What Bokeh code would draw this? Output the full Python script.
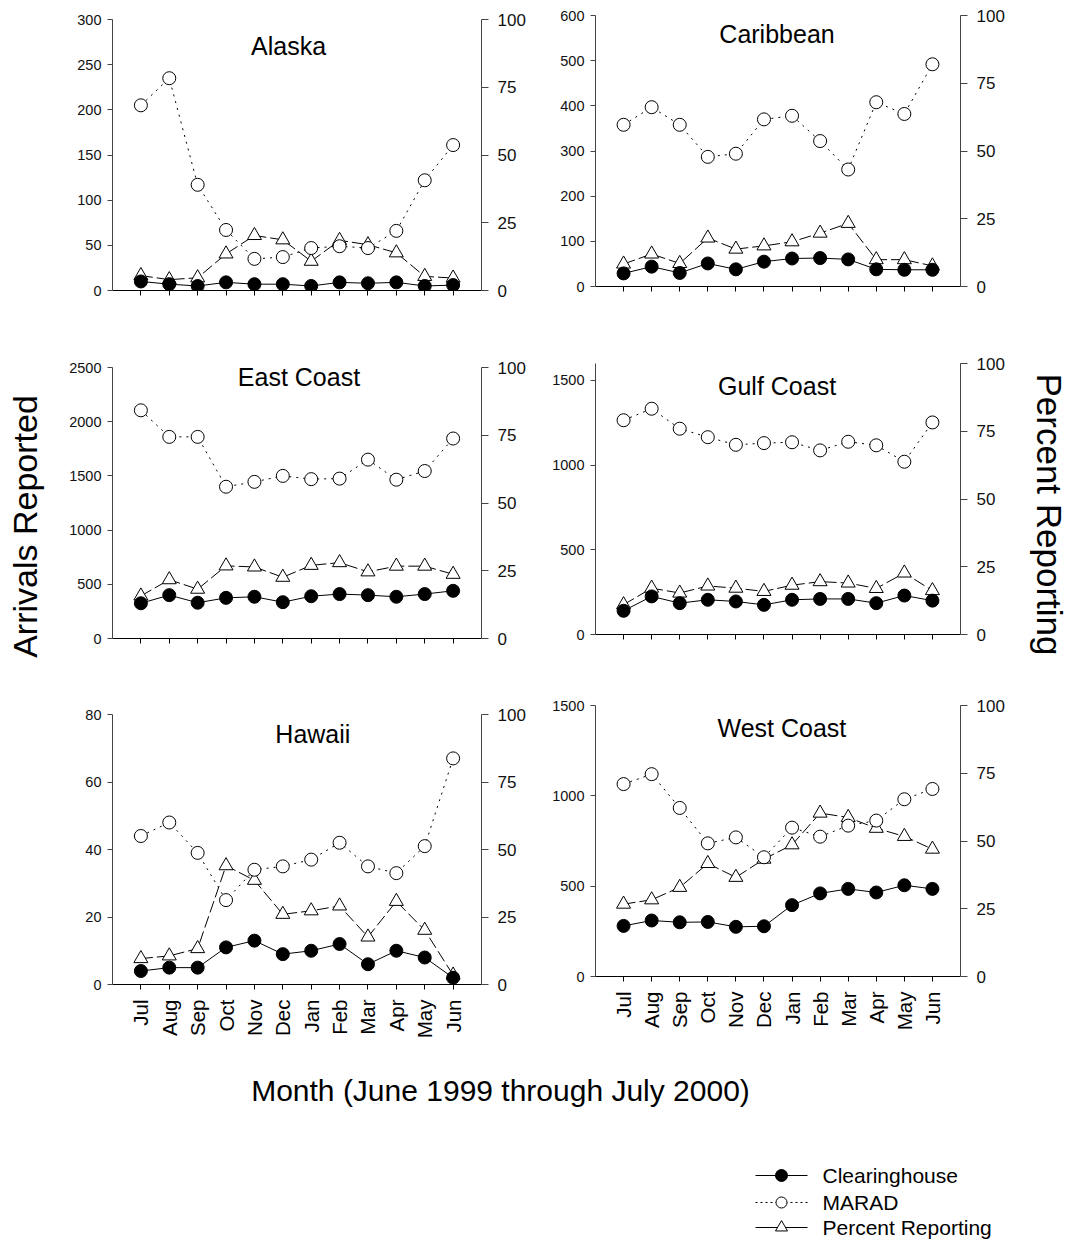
import math
from bokeh.plotting import figure
from bokeh.models import Range1d, LinearAxis, FixedTicker, ColumnDataSource
from bokeh.layouts import row, column
from bokeh.embed import file_html
from bokeh.resources import INLINE
from bokeh.core.properties import value

# ---------------- data ----------------
months = ["Jul", "Aug", "Sep", "Oct", "Nov", "Dec", "Jan", "Feb", "Mar", "Apr", "May", "Jun"]

alaska_clearinghouse = [10, 7, 5, 9, 7, 7, 5, 9, 8, 9, 5, 6]
alaska_marad = [205, 235, 117, 67, 35, 37, 47, 49, 47, 66, 122, 161]
alaska_percent = [5.5, 4, 4.7, 13.5, 20.3, 18.7, 10.8, 18.5, 16.9, 13.9, 5.2, 4.6]

caribbean_clearinghouse = [29, 44, 30, 51, 38, 55, 62, 63, 60, 38, 37, 37]
caribbean_marad = [358, 397, 358, 287, 294, 370, 378, 322, 259, 408, 382, 492]
caribbean_percent = [8.3, 12, 8.5, 17.9, 13.8, 15, 16.5, 19.7, 23.3, 9.9, 9.9, 7.6]

east_clearinghouse = [325, 400, 330, 375, 385, 335, 390, 410, 400, 385, 410, 440]
east_marad = [2105, 1860, 1860, 1400, 1445, 1500, 1470, 1475, 1650, 1465, 1545, 1845]
east_percent = [15.7, 21.7, 18.2, 26.8, 26.4, 22.6, 27, 28, 24.6, 26.7, 26.7, 23.7]

gulf_clearinghouse = [140, 225, 185, 205, 195, 175, 205, 210, 210, 185, 230, 200]
gulf_marad = [1265, 1333, 1215, 1165, 1120, 1130, 1135, 1087, 1138, 1117, 1020, 1252]
gulf_percent = [11, 17.1, 15.3, 17.9, 17.1, 15.9, 18.2, 19.5, 19, 17, 22.7, 16.2]

hawaii_clearinghouse = [4, 5, 5, 11, 13, 9, 10, 12, 6, 10, 8, 2]
hawaii_marad = [44, 48, 39, 25, 34, 35, 37, 42, 35, 33, 41, 67]
hawaii_percent = [9.6, 10.6, 13.3, 44, 38.6, 26, 27.3, 29.1, 17.6, 30.8, 20.1, 3.5]

west_clearinghouse = [280, 310, 300, 302, 275, 278, 395, 460, 485, 465, 505, 485]
west_marad = [1065, 1120, 933, 737, 770, 660, 824, 774, 835, 863, 981, 1038]
west_percent = [26.7, 28.3, 32.9, 41.7, 36.6, 43.3, 48.6, 60.3, 58.7, 54.7, 51.7, 47]

percent_ticks = [0, 25, 50, 75, 100]
series_names = ["Clearinghouse", "MARAD", "Percent Reporting"]

FONT = "Liberation Sans"
AXIS_GRAY = "#444444"


def make_panel(title, clr, marad, pct, ymax, yticks, width, height,
               b_left, b_right, b_top, b_bottom, title_dx, title_dy, show_months):
    frame_w = width - b_left - b_right
    frame_h = height - b_top - b_bottom
    n = len(months)
    p = figure(width=width, height=height, output_backend="svg", toolbar_location=None,
               x_range=Range1d(0, n + 1), y_range=Range1d(0, ymax),
               min_border_left=b_left, min_border_right=b_right,
               min_border_top=b_top, min_border_bottom=b_bottom,
               x_axis_location="below", y_axis_location="left")
    p.outline_line_color = None
    p.grid.visible = False
    p.background_fill_color = "white"
    p.border_fill_color = "white"
    p.extra_y_ranges = {"pct": Range1d(0, 100)}

    # left axis
    ya = p.yaxis[0]
    ya.ticker = FixedTicker(ticks=yticks)
    ya.major_tick_in = 0
    ya.major_tick_out = 5
    ya.minor_tick_line_color = None
    ya.axis_line_color = AXIS_GRAY
    ya.major_tick_line_color = AXIS_GRAY
    ya.major_label_text_font = FONT
    ya.major_label_text_font_size = "14.5px"
    ya.major_label_text_color = "#111111"
    ya.major_label_standoff = 6

    # right axis
    ra = LinearAxis(y_range_name="pct", ticker=FixedTicker(ticks=percent_ticks))
    ra.major_tick_in = 0
    ra.major_tick_out = 7
    ra.minor_tick_line_color = None
    ra.axis_line_color = AXIS_GRAY
    ra.major_tick_line_color = AXIS_GRAY
    ra.major_label_text_font = FONT
    ra.major_label_text_font_size = "17px"
    ra.major_label_text_color = "#111111"
    ra.major_label_standoff = 9
    p.add_layout(ra, "right")

    # bottom axis
    xa = p.xaxis[0]
    xa.ticker = FixedTicker(ticks=list(range(1, n + 1)))
    xa.major_tick_in = 0
    xa.major_tick_out = 5
    xa.minor_tick_line_color = None
    xa.axis_line_color = "black"
    xa.major_tick_line_color = "black"
    if show_months:
        xa.major_label_overrides = {i + 1: m for i, m in enumerate(months)}
        xa.major_label_orientation = math.pi / 2
        xa.major_label_text_font = FONT
        xa.major_label_text_font_size = "20.5px"
        xa.major_label_text_color = "black"
        xa.major_label_standoff = 10
    else:
        xa.major_label_overrides = {i + 1: "" for i in range(n)}
        xa.major_label_text_font_size = "1px"

    src = ColumnDataSource(dict(x=list(range(1, n + 1)), clr=clr, marad=marad, pct=pct))
    p.line("x", "marad", source=src, line_color="black", line_width=1, line_dash="2 5")
    p.line("x", "pct", source=src, line_color="black", line_width=1, line_dash="12 4",
           y_range_name="pct")
    p.line("x", "clr", source=src, line_color="black", line_width=1)
    p.scatter("x", "pct", source=src, marker="triangle", size=14, fill_color="white",
              line_color="black", line_width=1, y_range_name="pct")
    p.scatter("x", "marad", source=src, marker="circle", size=13, fill_color="white",
              line_color="black", line_width=1)
    p.scatter("x", "clr", source=src, marker="circle", size=13, fill_color="black",
              line_color="black", line_width=1)

    # panel title inside the frame
    tx = title_dx / frame_w * (n + 1)
    ty = ymax - title_dy / frame_h * ymax
    p.text(x=[tx], y=[ty], text=[title], text_font=value(FONT), text_font_size="25px",
           text_align="center", text_baseline="middle", text_color="black")
    return p


alaska = make_panel("Alaska", alaska_clearinghouse, alaska_marad, alaska_percent,
                    300, [0, 50, 100, 150, 200, 250, 300], 485, 330, 60, 52, 19, 40, 178, 26, False)
east = make_panel("East Coast", east_clearinghouse, east_marad, east_percent,
                  2500, [0, 500, 1000, 1500, 2000, 2500], 485, 350, 59, 54, 37, 42, 188, 9, False)
hawaii = make_panel("Hawaii", hawaii_clearinghouse, hawaii_marad, hawaii_percent,
                    80, [0, 20, 40, 60, 80], 485, 380, 62, 51, 34, 76, 202, 19, True)

caribbean = make_panel("Caribbean", caribbean_clearinghouse, caribbean_marad, caribbean_percent,
                       600, [0, 100, 200, 300, 400, 500, 600], 490, 330, 53, 65, 15, 44, 185, 18, False)
gulf = make_panel("Gulf Coast", gulf_clearinghouse, gulf_marad, gulf_percent,
                  1600, [0, 500, 1000, 1500], 490, 350, 56, 60, 33, 46, 186, 22, False)
west = make_panel("West Coast", west_clearinghouse, west_marad, west_percent,
                  1500, [0, 500, 1000, 1500], 490, 380, 60, 58, 25, 84, 190, 22, True)


def blank(width, height):
    f = figure(width=width, height=height, output_backend="svg", toolbar_location=None,
               x_range=Range1d(0, width), y_range=Range1d(0, height),
               min_border=0, min_border_left=0, min_border_right=0,
               min_border_top=0, min_border_bottom=0)
    f.axis.visible = False
    f.grid.visible = False
    f.outline_line_color = None
    f.background_fill_color = "white"
    f.border_fill_color = "white"
    return f


left_strip = blank(50, 1060)
left_strip.text(x=[24], y=[1060 - 526], text=["Arrivals Reported"], angle=math.pi / 2,
                text_font=value(FONT), text_font_size="34px", text_align="center",
                text_baseline="middle", text_color="black")

right_strip = blank(50, 1060)
right_strip.text(x=[24], y=[1060 - 514], text=["Percent Reporting"], angle=-math.pi / 2,
                 text_font=value(FONT), text_font_size="35px", text_align="center",
                 text_baseline="middle", text_color="black")

bottom = blank(1075, 190)
bottom.text(x=[500], y=[190 - 30], text=["Month (June 1999 through July 2000)"],
            text_font=value(FONT), text_font_size="30px", text_align="center",
            text_baseline="middle", text_color="black")

# legend (drawn manually)
leg_rows = [190 - 115, 190 - 142, 190 - 167]
leg_x0, leg_x1, leg_xm, leg_tx = 755, 807, 781, 822
leg_dash = ["solid", "2 3", "solid"]
leg_marker = ["circle", "circle", "triangle"]
leg_fill = ["black", "white", "white"]
leg_size = [12, 11, 12]
for name, yy, dash, mk, fc, sz in zip(series_names, leg_rows, leg_dash, leg_marker, leg_fill, leg_size):
    bottom.line(x=[leg_x0, leg_x1], y=[yy, yy], line_color="black", line_width=1, line_dash=dash)
    bottom.scatter(x=[leg_xm], y=[yy], marker=mk, size=sz, fill_color=fc, line_color="black")
    bottom.text(x=[leg_tx], y=[yy], text=[name], text_font=value(FONT), text_font_size="21px",
                text_align="left", text_baseline="middle", text_color="black")

layout = column(
    row(left_strip, column(alaska, east, hawaii), column(caribbean, gulf, west), right_strip),
    bottom,
)

open("out.html", "w").write(file_html(layout, INLINE))
